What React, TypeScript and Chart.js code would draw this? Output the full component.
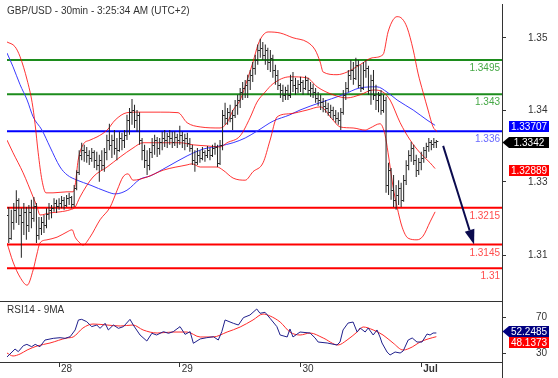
import React, { useEffect, useRef } from "react";
import { Chart, registerables } from "chart.js";

Chart.register(...registerables);

// ---------------- text ----------------
const TITLE = "GBP/USD - 30min - 3:25:34 AM (UTC+2)";
const RSI_TITLE = "RSI14 - 9MA";

// ---------------- x axis (bar index, 0 = first 30-min bar of the 28th) ----------------
const DATE_TICKS = [0, 48, 96, 144];
const DATE_LABELS = ["28", "29", "30", "Jul"];
const FIRST_BAR = -20;

// ---------------- price bars (30 min OHLC) ----------------
const OPEN = [
  1.3201,1.3157,1.3188,1.3211,1.3230,1.3201,1.3188,1.3207,1.3182,1.3207,1.3195,1.3218,1.3163,1.3176,1.3188,1.3182,1.3203,1.3211,1.3214,1.3224,
  1.3218,1.3224,1.3230,1.3220,1.3233,1.3235,1.3222,1.3252,1.3283,1.3315,1.3324,1.3321,1.3315,1.3309,1.3321,1.3305,1.3296,1.3305,1.3296,1.3321,1.3343,1.3334,1.3343,1.3328,1.3324,
  1.3347,1.3343,1.3353,1.3381,1.3396,1.3400,1.3381,1.3391,1.3343,1.3324,1.3305,1.3296,1.3321,1.3334,1.3343,1.3328,1.3340,1.3347,1.3343,1.3351,1.3347,1.3340,1.3349,1.3343,
  1.3353,1.3343,1.3347,1.3338,1.3328,1.3305,1.3302,1.3315,1.3309,1.3321,1.3315,1.3324,1.3315,1.3328,1.3330,1.3300,1.3334,1.3391,1.3385,1.3396,1.3385,1.3391,1.3410,1.3419,1.3434,1.3442,
  1.3448,1.3457,1.3467,1.3480,1.3495,1.3514,1.3518,1.3505,1.3514,1.3491,1.3499,1.3476,1.3467,1.3448,1.3438,1.3429,1.3438,1.3429,1.3457,1.3448,1.3442,1.3450,1.3453,1.3442,1.3457,1.3438,
  1.3442,1.3434,1.3423,1.3419,1.3415,1.3408,1.3404,1.3396,1.3400,1.3391,1.3385,1.3381,1.3396,1.3429,1.3442,1.3467,1.3476,1.3461,1.3486,1.3448,1.3442,1.3476,1.3480,1.3438,1.3457,1.3429,1.3419,1.3429,1.3400,
  1.3419,1.3258,1.3286,1.3248,1.3230,1.3239,1.3252,1.3230,1.3267,1.3296,1.3315,1.3328,1.3305,1.3286,1.3302,1.3309,1.3324,1.3332,1.3340,1.3336,1.3340,
];
const HIGH = [
  1.3216,1.3211,1.3224,1.3248,1.3233,1.3214,1.3224,1.3216,1.3220,1.3230,1.3235,1.3224,1.3197,1.3197,1.3201,1.3214,1.3224,1.3220,1.3233,1.3230,
  1.3233,1.3237,1.3235,1.3239,1.3243,1.3237,1.3258,1.3286,1.3324,1.3338,1.3334,1.3330,1.3324,1.3328,1.3324,1.3321,1.3315,1.3324,1.3328,1.3353,1.3374,1.3353,1.3362,1.3347,1.3359,
  1.3357,1.3362,1.3391,1.3404,1.3421,1.3410,1.3400,1.3396,1.3347,1.3334,1.3324,1.3328,1.3347,1.3353,1.3349,1.3347,1.3359,1.3362,1.3357,1.3362,1.3359,1.3360,1.3355,1.3370,
  1.3359,1.3355,1.3357,1.3347,1.3334,1.3324,1.3328,1.3324,1.3330,1.3324,1.3332,1.3328,1.3334,1.3338,1.3334,1.3343,1.3400,1.3414,1.3404,1.3410,1.3400,1.3419,1.3429,1.3442,1.3453,1.3457,
  1.3467,1.3476,1.3491,1.3505,1.3524,1.3535,1.3529,1.3524,1.3518,1.3514,1.3505,1.3486,1.3476,1.3451,1.3448,1.3444,1.3448,1.3467,1.3472,1.3461,1.3457,1.3463,1.3457,1.3465,1.3461,1.3453,
  1.3450,1.3442,1.3434,1.3429,1.3423,1.3419,1.3414,1.3410,1.3406,1.3400,1.3396,1.3404,1.3438,1.3453,1.3476,1.3495,1.3491,1.3499,1.3495,1.3486,1.3491,1.3495,1.3484,1.3467,1.3476,1.3448,1.3434,1.3438,1.3429,
  1.3425,1.3300,1.3290,1.3277,1.3258,1.3267,1.3262,1.3277,1.3305,1.3324,1.3340,1.3334,1.3315,1.3309,1.3321,1.3330,1.3338,1.3347,1.3343,1.3347,1.3343,
];
const LOW = [
  1.3148,1.3154,1.3173,1.3186,1.3182,1.3120,1.3163,1.3154,1.3169,1.3176,1.3188,1.3148,1.3154,1.3163,1.3167,1.3176,1.3192,1.3195,1.3207,1.3205,
  1.3211,1.3214,1.3211,1.3216,1.3220,1.3214,1.3216,1.3248,1.3277,1.3305,1.3302,1.3300,1.3296,1.3302,1.3290,1.3286,1.3264,1.3286,1.3283,1.3305,1.3324,1.3309,1.3315,1.3305,1.3321,
  1.3324,1.3328,1.3343,1.3353,1.3372,1.3366,1.3359,1.3334,1.3305,1.3290,1.3277,1.3286,1.3309,1.3315,1.3311,1.3315,1.3324,1.3330,1.3328,1.3334,1.3328,1.3332,1.3328,1.3334,
  1.3328,1.3324,1.3330,1.3321,1.3296,1.3283,1.3296,1.3300,1.3305,1.3302,1.3309,1.3305,1.3311,1.3315,1.3292,1.3296,1.3324,1.3372,1.3372,1.3377,1.3362,1.3385,1.3391,1.3404,1.3419,1.3423,
  1.3423,1.3438,1.3453,1.3467,1.3486,1.3499,1.3495,1.3486,1.3476,1.3472,1.3461,1.3448,1.3438,1.3423,1.3415,1.3419,1.3419,1.3423,1.3434,1.3429,1.3432,1.3434,1.3429,1.3438,1.3429,1.3425,
  1.3423,1.3414,1.3408,1.3400,1.3396,1.3395,1.3389,1.3385,1.3381,1.3376,1.3372,1.3362,1.3391,1.3419,1.3434,1.3457,1.3448,1.3457,1.3442,1.3434,1.3438,1.3461,1.3429,1.3410,1.3419,1.3400,1.3396,1.3391,1.3395,
  1.3243,1.3239,1.3230,1.3216,1.3211,1.3220,1.3216,1.3226,1.3258,1.3286,1.3302,1.3296,1.3273,1.3277,1.3286,1.3300,1.3309,1.3321,1.3324,1.3328,1.3328,
];
const CLOSE = [
  1.3157,1.3188,1.3211,1.3230,1.3201,1.3188,1.3207,1.3182,1.3207,1.3195,1.3218,1.3163,1.3176,1.3188,1.3182,1.3203,1.3211,1.3214,1.3224,1.3218,
  1.3224,1.3230,1.3220,1.3233,1.3235,1.3222,1.3252,1.3283,1.3315,1.3324,1.3321,1.3315,1.3309,1.3321,1.3305,1.3296,1.3305,1.3296,1.3321,1.3343,1.3334,1.3343,1.3328,1.3324,1.3347,
  1.3343,1.3353,1.3381,1.3396,1.3400,1.3381,1.3391,1.3343,1.3324,1.3305,1.3296,1.3321,1.3334,1.3343,1.3328,1.3340,1.3347,1.3343,1.3351,1.3347,1.3340,1.3349,1.3343,1.3353,
  1.3343,1.3347,1.3338,1.3328,1.3305,1.3302,1.3315,1.3309,1.3321,1.3315,1.3324,1.3315,1.3328,1.3330,1.3300,1.3334,1.3391,1.3385,1.3396,1.3385,1.3391,1.3410,1.3419,1.3434,1.3442,1.3448,
  1.3457,1.3467,1.3480,1.3495,1.3514,1.3518,1.3505,1.3514,1.3491,1.3499,1.3476,1.3467,1.3448,1.3438,1.3429,1.3438,1.3429,1.3457,1.3448,1.3442,1.3450,1.3453,1.3442,1.3457,1.3438,1.3442,
  1.3434,1.3423,1.3419,1.3415,1.3408,1.3404,1.3396,1.3400,1.3391,1.3385,1.3381,1.3396,1.3429,1.3442,1.3467,1.3476,1.3461,1.3486,1.3448,1.3442,1.3476,1.3480,1.3438,1.3457,1.3429,1.3419,1.3429,1.3400,1.3419,
  1.3258,1.3286,1.3248,1.3230,1.3239,1.3252,1.3230,1.3267,1.3296,1.3315,1.3328,1.3305,1.3286,1.3302,1.3309,1.3324,1.3332,1.3340,1.3336,1.3340,1.3342,
];

// ---------------- Bollinger bands & moving average (read at sample bars) ----------------
const UPPER_X = [-20.7,-17.5,-15.5,-12.7,-10.7,-9.5,-8.3,-6.8,-5.2,-2.4,3.2,5.6,6.4,7.6,9.5,12.3,15.1,19.1,22.3,27,31,40.2,47.3,50.9,56.1,64,66.8,69.2,72,74.8,77.1,79.1,81.1,83.1,87.9,93,98.6,101.8,103.8,105,110.5,114.5,119.7,124.5,128.8,130.8,132.8,134.4,136.4,138.4,140.8,142.7,144.7,146.7,148.7,150.3];
const UPPER_P = [1.3529,1.3520,1.3501,1.3457,1.3414,1.3372,1.3319,1.3267,1.3243,1.3243,1.3245,1.3245,1.3258,1.3305,1.3334,1.3343,1.3349,1.3362,1.3381,1.3395,1.3396,1.3396,1.3395,1.3376,1.3368,1.3366,1.3376,1.3400,1.3419,1.3457,1.3491,1.3524,1.3542,1.3548,1.3546,1.3537,1.3529,1.3514,1.3491,1.3472,1.3467,1.3472,1.3486,1.3499,1.3505,1.3548,1.3571,1.3577,1.3573,1.3556,1.3514,1.3470,1.3434,1.3400,1.3368,1.3359];
const MID_X = [-20.7,-18.3,-14.3,-10.3,-8.7,-7.6,-3.6,0.4,4.4,6.4,8.3,13.5,19.1,24.3,29.4,33.4,39,48.1,53.3,58.8,64,66.8,72,75.9,78.7,81.9,85.1,91.8,98.6,102.6,108.9,114.5,119.7,124.9,128.8,131.6,135.6,139.6,143.5,147.5,149.5];
const MID_P = [1.3343,1.3319,1.3281,1.3235,1.3216,1.3201,1.3205,1.3207,1.3211,1.3216,1.3235,1.3273,1.3292,1.3311,1.3328,1.3338,1.3338,1.3338,1.3334,1.3332,1.3330,1.3338,1.3351,1.3385,1.3415,1.3434,1.3450,1.3463,1.3461,1.3444,1.3429,1.3423,1.3429,1.3438,1.3434,1.3419,1.3376,1.3343,1.3319,1.3300,1.3289];
const LOWER_X = [-20.7,-18.3,-15.5,-12.7,-10.3,-8.7,-7.6,-4.8,-0.8,3.2,5.2,6.4,8.3,9.5,12.3,16.3,20.3,23.1,25.4,27.4,29.4,35,41.4,50.9,52.9,56.1,62.8,65.2,69.2,74,77.1,81.1,83.9,86.7,91.8,98.6,103.8,108.9,111.7,116.9,121.7,123.7,127.6,129.6,130.8,132.8,134.4,136.4,138.8,142.3,144.7,147.5,149.5];
const LOWER_P = [1.3148,1.3112,1.3083,1.3068,1.3097,1.3129,1.3148,1.3154,1.3159,1.3169,1.3173,1.3159,1.3148,1.3144,1.3159,1.3192,1.3216,1.3248,1.3273,1.3279,1.3267,1.3273,1.3286,1.3296,1.3298,1.3292,1.3292,1.3286,1.3271,1.3267,1.3283,1.3300,1.3343,1.3387,1.3393,1.3400,1.3406,1.3381,1.3368,1.3366,1.3362,1.3366,1.3374,1.3353,1.3319,1.3254,1.3216,1.3178,1.3157,1.3154,1.3161,1.3188,1.3207];
const MA_X = [-20.7,-18.3,-15.5,-12.7,-10.3,-6.8,-3.6,0.4,3.2,7.2,12.3,19.1,22.3,27,32.2,36.2,42.9,50.9,57.3,64,69.2,74,78.7,85.1,91.8,95.8,103.8,112.9,119.7,126.4,130.4,134.4,140.8,146.3,149.5];
const MA_P = [1.3508,1.3482,1.3448,1.3419,1.3387,1.3362,1.3330,1.3292,1.3277,1.3267,1.3258,1.3245,1.3241,1.3248,1.3269,1.3275,1.3292,1.3313,1.3326,1.3332,1.3338,1.3347,1.3360,1.3379,1.3391,1.3400,1.3414,1.3429,1.3442,1.3444,1.3434,1.3419,1.3400,1.3381,1.3371];

// ---------------- key levels ----------------
const LEVELS = [1.3495, 1.343, 1.336, 1.3215, 1.3145, 1.31];
const LEVEL_LABELS = ["1.3495", "1.343", "1.336", "1.3215", "1.3145", "1.31"];
const ARROW_FROM = [152.7, 1.3332];
const ARROW_TO = [165, 1.3145];

// ---------------- price axis ----------------
const Y_TICK_VALUES = [1.3537, 1.34, 1.3264, 1.3125];
const Y_TICK_LABELS = ["1.35", "1.34", "1.33", "1.31"];
const PRICE_BOX_VALUES = [1.33707, 1.3342, 1.32889];
const PRICE_BOX_TEXT = ["1.33707", "1.3342", "1.32889"];

// ---------------- RSI ----------------
const RSI_X = [-20.7,-17.5,-16.2,-14.2,-12.8,-10.9,-9.5,-7.6,-5.6,-2.3,0.4,2.4,4.4,6.4,7.7,9,11,13,15,16.3,18.3,19.6,21.6,23.6,25.6,28.2,29.5,32.2,34.9,36.9,38.8,41.5,43.5,45.4,48.1,50.1,52.1,53.4,56.1,58.7,61.4,63.3,64.7,66,69.3,71.3,73.3,75.9,78.6,79.9,81.9,83.9,86.6,87.9,90.7,91.8,93,95.8,99.8,101.8,103,106.6,110.5,111.7,112.9,114.9,116.9,118.5,119.7,121.7,122.9,124.9,126.4,127.6,128.4,130.4,131.6,133.6,135.6,136.8,138.8,140.4,142.3,144.3,146.3,147.5,148.7,150];
const RSI_V = [25.6,34.4,31.5,38.1,39.6,37,39.6,37,44.4,46.3,47,46.3,48.1,55.6,66.7,67.4,64.8,59.3,61.1,57.4,63,55.6,61.1,57.4,59.3,67.4,61.1,50,43.3,51.9,50,53.7,51.9,53.7,59.3,50.7,53.7,40.8,45.6,47,48.1,44.4,53.7,66.7,63,61.1,69.3,72.2,78.9,74.1,75.2,68.5,59.3,50,47.8,56.7,47.8,53.3,52.2,46.7,42.2,41.1,38.9,42.2,55.6,63.3,64.4,53.3,57.8,53.3,57.8,50,55.6,47.8,41.1,31.1,27.8,31.1,30,32.2,44.4,46.7,42.2,42.2,51.1,50,52.2,52.25];
const RSI_MA_X = [-20.7,-18.3,-15.5,-12.7,-8.7,-3.6,3.2,5.6,9.5,13.5,19.1,24.3,29.4,33.4,39,45.3,50.9,56.1,61.2,66.8,72,77.1,81.1,83.9,87.9,91.8,95.8,99.8,105,110.9,114.5,118.5,120.9,124.9,128.8,132.8,136.8,140.4,143.5,146.7,150];
const RSI_MA_V = [30,26.7,28.9,33.3,37.8,41.1,46.7,47.8,57.8,62.2,61.1,60,61.1,55.6,52.2,53.3,53.3,47.8,47.8,53.3,58.9,66.7,73.3,71.1,64.4,53.3,50,52.2,46.7,38.9,44.4,53.3,58.9,55.6,50,41.1,33.3,36.7,42.2,45.6,48.14];
const RSI_TICKS = [70, 30];
const RSI_BOX_VALUES = [52.2485, 48.1373];
const RSI_BOX_TEXT = ["52.2485", "48.1373"];

// ---------------- styles / layout ----------------
const FONT_FAMILY = '"Liberation Sans", Arial, Helvetica, sans-serif';
const FONT = `10px ${FONT_FAMILY}`;
const TEXT_COLOR = "#333333";
const AXIS_COLOR = "#333333";
const BAR_COLOR = "#222222";
const BAND_COLOR = "rgba(255,0,0,0.8)";
const MA_COLOR = "#3a3aff";
const LEVEL_COLORS = ["#1c8c1c", "#1c8c1c", "#0000ff", "#ff0000", "#ff0000", "#ff0000"];
const LEVEL_TEXT_COLORS = ["#45a845", "#45a845", "#6a6aff", "#ff4c4c", "#ff4c4c", "#ff4c4c"];
const PRICE_BOX_COLORS = ["#0000ff", "#000000", "#ff0000"];
const PRICE_BOX_POINTER = [false, true, false];
const RSI_BOX_COLORS = ["#000080", "#ff0000"];
const RSI_BOX_POINTER = [true, false];
const ARROW_COLOR = "#0b0b4e";

const X_MIN = -20.7;
const X_MAX = 176.1;
const RSI_X_MIN = -23.48;
const Y_MIN = 1.3038;
const Y_MAX = 1.3601;
const RSI_MIN = 20;
const RSI_MAX = 87.78;

const pts = (xs: number[], ys: number[]) => xs.map((x, k) => ({ x, y: ys[k] }));

const fixWidth = (w: number) => (s: any) => {
  s.width = w;
  s.paddingTop = 0;
  s.paddingBottom = 0;
};
const fixHeight = (h: number) => (s: any) => {
  s.height = h;
  s.paddingLeft = 0;
  s.paddingRight = 0;
};

function drawBoxes(chart: any, values: number[], texts: string[], colors: string[], pointers: boolean[], shift: number) {
  const { ctx, chartArea: a, scales } = chart;
  const y = scales.y;
  const h = 11;
  const left = a.right + 7;
  const right = a.right + 47;
  let prevBottom = -Infinity;
  ctx.save();
  ctx.font = FONT;
  ctx.textAlign = "center";
  ctx.textBaseline = "middle";
  values.forEach((v, k) => {
    let top = Math.round(y.getPixelForValue(v) + shift - h / 2);
    if (top < prevBottom) top = prevBottom;
    ctx.fillStyle = colors[k];
    ctx.beginPath();
    if (pointers[k]) {
      ctx.moveTo(a.right + 0.5, top + h / 2);
      ctx.lineTo(left, top);
      ctx.lineTo(right, top);
      ctx.lineTo(right, top + h);
      ctx.lineTo(left, top + h);
      ctx.closePath();
    } else {
      ctx.rect(left, top, right - left, h);
    }
    ctx.fill();
    ctx.fillStyle = "#ffffff";
    ctx.fillText(texts[k], (left + right) / 2, top + h / 2 + 0.5);
    prevBottom = top + h;
  });
  ctx.restore();
}

const mainDecor = {
  id: "mainDecor",
  afterDatasetsDraw(chart: any) {
    const { ctx, chartArea: a, scales } = chart;
    const x = scales.x;
    const y = scales.y;
    ctx.save();
    ctx.beginPath();
    ctx.rect(a.left, a.top, a.right - a.left, a.bottom - a.top);
    ctx.clip();
    // open / close ticks of the bars
    ctx.strokeStyle = BAR_COLOR;
    ctx.lineWidth = 1;
    ctx.beginPath();
    CLOSE.forEach((c, k) => {
      const px = x.getPixelForValue(FIRST_BAR + k);
      const yo = Math.round(y.getPixelForValue(OPEN[k])) + 0.5;
      const yc = Math.round(y.getPixelForValue(c)) + 0.5;
      ctx.moveTo(px - 2, yo);
      ctx.lineTo(px - 0.5, yo);
      ctx.moveTo(px + 0.5, yc);
      ctx.lineTo(px + 2, yc);
    });
    ctx.stroke();
    // level labels
    ctx.font = FONT;
    ctx.textAlign = "right";
    ctx.textBaseline = "alphabetic";
    LEVELS.forEach((lv, k) => {
      ctx.fillStyle = LEVEL_TEXT_COLORS[k];
      ctx.fillText(LEVEL_LABELS[k], a.right - 2, Math.round(y.getPixelForValue(lv)) + 11);
    });
    // projection arrow
    const x0 = x.getPixelForValue(ARROW_FROM[0]);
    const y0 = y.getPixelForValue(ARROW_FROM[1]);
    const x1 = x.getPixelForValue(ARROW_TO[0]);
    const y1 = y.getPixelForValue(ARROW_TO[1]);
    const ang = Math.atan2(y1 - y0, x1 - x0);
    const headLen = 15;
    const headW = 5;
    const bx = x1 - headLen * Math.cos(ang);
    const by = y1 - headLen * Math.sin(ang);
    ctx.strokeStyle = ARROW_COLOR;
    ctx.lineWidth = 2;
    ctx.beginPath();
    ctx.moveTo(x0, y0);
    ctx.lineTo(bx, by);
    ctx.stroke();
    ctx.fillStyle = ARROW_COLOR;
    ctx.beginPath();
    ctx.moveTo(x1, y1);
    ctx.lineTo(bx + headW * Math.sin(ang), by - headW * Math.cos(ang));
    ctx.lineTo(bx - headW * Math.sin(ang), by + headW * Math.cos(ang));
    ctx.closePath();
    ctx.fill();
    ctx.restore();
  },
  afterDraw(chart: any) {
    const { ctx } = chart;
    ctx.save();
    ctx.font = FONT;
    ctx.fillStyle = TEXT_COLOR;
    ctx.textAlign = "left";
    ctx.textBaseline = "alphabetic";
    ctx.fillText(TITLE, 7, 14);
    ctx.restore();
    drawBoxes(chart, PRICE_BOX_VALUES, PRICE_BOX_TEXT, PRICE_BOX_COLORS, PRICE_BOX_POINTER, 1.5);
  },
};

const rsiDecor = {
  id: "rsiDecor",
  afterDraw(chart: any) {
    const { ctx, chartArea: a, height } = chart;
    ctx.save();
    ctx.strokeStyle = AXIS_COLOR;
    ctx.lineWidth = 1;
    ctx.beginPath();
    ctx.moveTo(a.left, a.top + 0.5);
    ctx.lineTo(a.right + 1, a.top + 0.5);
    ctx.moveTo(a.right + 0.5, a.bottom);
    ctx.lineTo(a.right + 0.5, height);
    ctx.stroke();
    ctx.font = FONT;
    ctx.fillStyle = TEXT_COLOR;
    ctx.textAlign = "left";
    ctx.textBaseline = "alphabetic";
    ctx.fillText(RSI_TITLE, 7, 17.5);
    ctx.restore();
    drawBoxes(chart, RSI_BOX_VALUES, RSI_BOX_TEXT, RSI_BOX_COLORS, RSI_BOX_POINTER, -1);
  },
};

const lineStyle = (color: string, order: number, smooth: boolean) => ({
  type: "line" as const,
  borderColor: color,
  borderWidth: 1,
  pointRadius: 0,
  fill: false,
  order,
  cubicInterpolationMode: smooth ? ("monotone" as const) : ("default" as const),
  tension: 0,
});

export default function App() {
  const mainRef = useRef<HTMLCanvasElement>(null);
  const rsiRef = useRef<HTMLCanvasElement>(null);

  useEffect(() => {
    const barIdx = CLOSE.map((_, k) => FIRST_BAR + k);
    const levelSets = LEVELS.map((lv, k) => ({
      type: "line" as const,
      data: [{ x: X_MIN, y: lv }, { x: X_MAX, y: lv }],
      borderColor: LEVEL_COLORS[k],
      borderWidth: 2,
      pointRadius: 0,
      order: 5,
    }));

    const main = new Chart(mainRef.current as HTMLCanvasElement, {
      type: "line",
      data: {
        datasets: [
          ...levelSets,
          { ...lineStyle(BAND_COLOR, 2, true), data: pts(UPPER_X, UPPER_P) },
          { ...lineStyle(BAND_COLOR, 2, true), data: pts(MID_X, MID_P) },
          { ...lineStyle(BAND_COLOR, 2, true), data: pts(LOWER_X, LOWER_P) },
          { ...lineStyle(MA_COLOR, 3, true), data: pts(MA_X, MA_P) },
          {
            type: "bar" as const,
            data: barIdx.map((x, k) => ({ x, y: [LOW[k], HIGH[k]] })),
            backgroundColor: BAR_COLOR,
            borderWidth: 0,
            barThickness: 1,
            inflateAmount: 0,
            order: 0,
          } as any,
        ],
      },
      options: {
        animation: false,
        responsive: false,
        devicePixelRatio: 1,
        layout: { padding: { left: 7, top: 4, right: 0, bottom: 0 } },
        plugins: { legend: { display: false }, tooltip: { enabled: false }, title: { display: false } },
        scales: {
          x: { type: "linear", min: X_MIN, max: X_MAX, display: false, offset: false },
          y: {
            position: "right",
            min: Y_MIN,
            max: Y_MAX,
            afterFit: fixWidth(56),
            afterBuildTicks: (s: any) => { s.ticks = Y_TICK_VALUES.map((v) => ({ value: v })); },
            ticks: {
              callback: (_v: any, i: number) => Y_TICK_LABELS[i],
              font: { family: FONT_FAMILY, size: 10 },
              color: TEXT_COLOR,
              padding: 22,
              crossAlign: "near",
            },
            grid: { drawOnChartArea: false, tickLength: 4, color: AXIS_COLOR },
            border: { color: AXIS_COLOR, width: 1 },
          },
        },
      } as any,
      plugins: [mainDecor],
    });

    const rsi = new Chart(rsiRef.current as HTMLCanvasElement, {
      type: "line",
      data: {
        datasets: [
          { ...lineStyle("#20208c", 0, false), data: pts(RSI_X, RSI_V) },
          { ...lineStyle("#ff2a2a", 1, true), data: pts(RSI_MA_X, RSI_MA_V) },
        ],
      },
      options: {
        animation: false,
        responsive: false,
        devicePixelRatio: 1,
        layout: { padding: { left: 0, top: 6, right: 0, bottom: 0 } },
        plugins: { legend: { display: false }, tooltip: { enabled: false }, title: { display: false } },
        scales: {
          x: {
            type: "linear",
            min: RSI_X_MIN,
            max: X_MAX,
            offset: false,
            afterFit: fixHeight(16),
            afterBuildTicks: (s: any) => { s.ticks = DATE_TICKS.map((v) => ({ value: v })); },
            ticks: {
              callback: (_v: any, i: number) => DATE_LABELS[i],
              autoSkip: false,
              maxRotation: 0,
              align: "start",
              labelOffset: 2,
              padding: -4,
              color: TEXT_COLOR,
              font: (c: any) => ({
                family: FONT_FAMILY,
                size: 10,
                weight: DATE_LABELS[c.index] === "Jul" ? "bold" : "normal",
              }),
            },
            grid: { drawOnChartArea: false, tickLength: 5, color: AXIS_COLOR },
            border: { color: AXIS_COLOR, width: 1 },
          },
          y: {
            position: "right",
            min: RSI_MIN,
            max: RSI_MAX,
            afterFit: fixWidth(56),
            afterBuildTicks: (s: any) => { s.ticks = RSI_TICKS.map((v) => ({ value: v })); },
            ticks: {
              font: { family: FONT_FAMILY, size: 10 },
              color: TEXT_COLOR,
              padding: 30,
              crossAlign: "near",
            },
            grid: { drawOnChartArea: false, tickLength: 4, color: AXIS_COLOR },
            border: { color: AXIS_COLOR, width: 1 },
          },
        },
      } as any,
      plugins: [rsiDecor],
    });

    return () => {
      main.destroy();
      rsi.destroy();
    };
  }, []);

  return (
    <div style={{ position: "absolute", left: 0, top: 0, width: 558, height: 378, background: "#ffffff", overflow: "hidden" }}>
      <canvas ref={mainRef} width={558} height={301} style={{ position: "absolute", left: 0, top: 0 }} />
      <canvas ref={rsiRef} width={558} height={83} style={{ position: "absolute", left: 0, top: 295 }} />
    </div>
  );
}
